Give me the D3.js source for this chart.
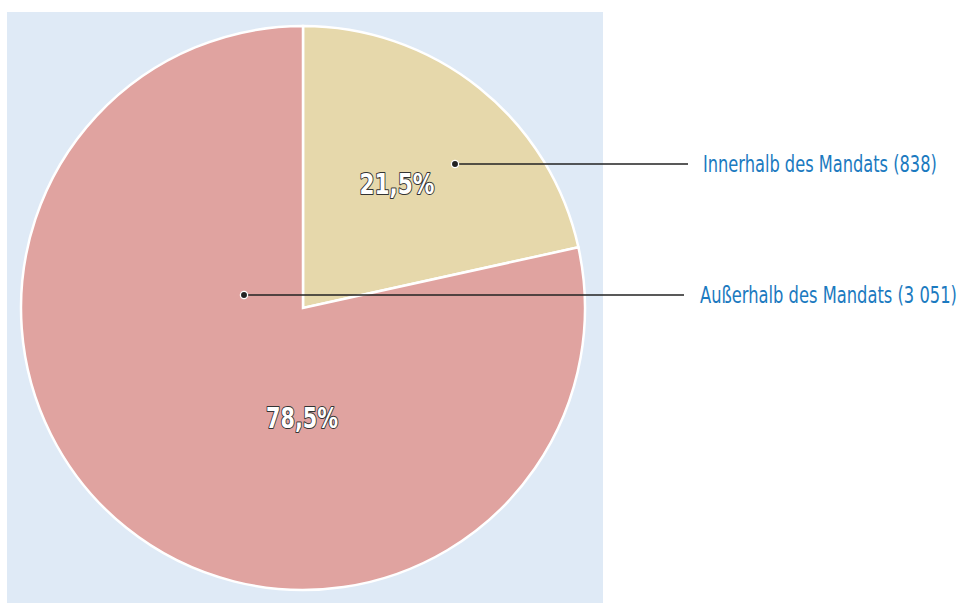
<!DOCTYPE html>
<html><head><meta charset="utf-8">
<script src="https://cdn.jsdelivr.net/npm/d3@7"></script>
<style>body{margin:0;background:#fff}svg{display:block}</style>
</head><body>
<svg id="c" width="961" height="603"></svg>
<script>
const categories = ["Innerhalb des Mandats", "Außerhalb des Mandats"];
const counts = [838, 3051];
const percentLabels = ["21,5%", "78,5%"];
const legendLabels = ["Innerhalb des Mandats (838)", "Außerhalb des Mandats (3 051)"];
const colors = ["#e6d8ab", "#e0a3a0"];

const svg = d3.select("#c");
const font = "'Liberation Sans Narrow','DejaVu Sans Condensed','DejaVu Sans',sans-serif";
svg.append("rect").attr("x",7).attr("y",12).attr("width",596).attr("height",591).attr("fill","#dfeaf6");

const cx = 303, cy = 308, R = 282;
const pie = d3.pie().sort(null).value(d=>d)(counts);
const arc = d3.arc().innerRadius(0).outerRadius(R);
const g = svg.append("g").attr("transform",`translate(${cx},${cy})`);
g.selectAll("path").data(pie).join("path")
  .attr("d",arc).attr("fill",(d,i)=>colors[i])
  .attr("stroke","#fff").attr("stroke-width",2.5).attr("stroke-linejoin","miter");

// fit text horizontally via a scale transform
function fitX(sel, x, y, w, anchor){
  const node = sel.node();
  const nat = node.getComputedTextLength();
  const s = Math.min(1, w / nat);
  sel.attr("x",0).attr("y",0).attr("transform",`translate(${x},${y}) scale(${s},1)`);
}

// percent labels
const labelPos = [[94,-124],[-1,110]];
const labelW = [75, 72];
pie.forEach((d,i)=>{
  const t = g.append("text")
    .attr("text-anchor","middle").attr("dominant-baseline","central")
    .attr("font-family",font).attr("font-weight","bold").attr("font-size",28)
    .attr("fill","#fff").attr("stroke","#333").attr("stroke-width",2)
    .attr("paint-order","stroke").attr("stroke-linejoin","round")
    .text(percentLabels[i]);
  fitX(t, labelPos[i][0], labelPos[i][1], labelW[i]);
});

// leader lines
const leaders = [{dot:[455,164], end:688, tx:703, w:234}, {dot:[244,295], end:684, tx:700, w:257}];
leaders.forEach((l,i)=>{
  svg.append("line").attr("x1",l.dot[0]).attr("y1",l.dot[1]).attr("x2",l.end).attr("y2",l.dot[1])
    .attr("stroke","#222").attr("stroke-width",1.3);
  svg.append("circle").attr("cx",l.dot[0]).attr("cy",l.dot[1]).attr("r",3.6)
    .attr("fill","#222").attr("stroke","#fff").attr("stroke-width",1.3);
  const t = svg.append("text").attr("dominant-baseline","central")
    .attr("font-family",font).attr("font-size",23).attr("fill","#1b7ac0")
    .text(legendLabels[i]);
  fitX(t, l.tx, l.dot[1], l.w);
});
</script>
</body></html>
